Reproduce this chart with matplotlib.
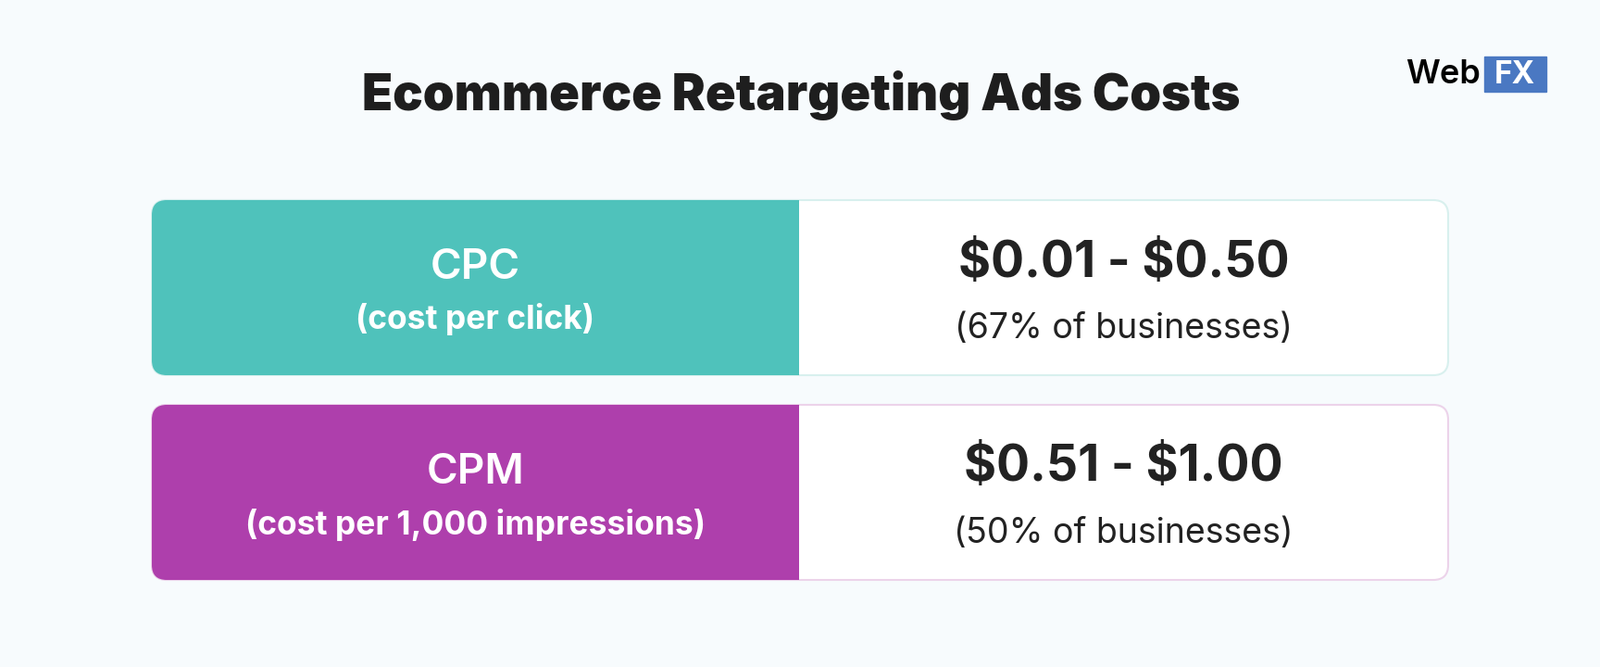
import matplotlib.pyplot as plt
from matplotlib.patches import FancyBboxPatch, Rectangle

plt.rcParams["text.parse_math"] = False

title = "Ecommerce Retargeting Ads Costs"
metrics = ["CPC", "CPM"]
metric_desc = ["(cost per click)", "(cost per 1,000 impressions)"]
ranges = ["$0.01 - $0.50", "$0.51 - $1.00"]
shares = ["(67% of businesses)", "(50% of businesses)"]
colors = ["#4fc2bb", "#ae3fac"]
borders = ["#d8f0ee", "#ecd3ea"]

W, H = 1728, 720
fig = plt.figure(figsize=(W / 100, H / 100), dpi=100)
fig.patch.set_facecolor("#f7fbfd")
ax = fig.add_axes([0, 0, 1, 1])
ax.set_xlim(0, W)
ax.set_ylim(H, 0)
ax.axis("off")

ax.text(865, 103, title, ha="center", va="center", fontsize=39, fontweight="black",
        color="#1e1e1e", family="Inter")

# logo
ax.text(1599, 81, "Web", ha="right", va="center", fontsize=26, fontweight="semibold",
        color="black", family="Inter")
ax.add_patch(Rectangle((1603, 61), 67, 38, color="#4a78c2"))
ax.text(1636, 81, "FX", ha="center", va="center", fontsize=24, fontweight="bold",
        color="white", family="Inter")

x0, x1, xs = 164, 1564, 863
tops = [216, 437]
h = 189
r = 16
for i in range(len(metrics)):
    y = tops[i]
    ax.add_patch(FancyBboxPatch((x0, y), x1 - x0, h, boxstyle=f"round,pad=0,rounding_size={r}",
                                facecolor="white", edgecolor=borders[i], linewidth=1.5))
    ax.add_patch(FancyBboxPatch((x0, y), xs - x0, h, boxstyle=f"round,pad=0,rounding_size={r}",
                                facecolor=colors[i], edgecolor="none"))
    ax.add_patch(Rectangle((xs - 2 * r, y), 2 * r, h, facecolor=colors[i], edgecolor="none"))
    cx = (x0 + xs) / 2
    ax.text(cx, y + 73, metrics[i], ha="center", va="center", fontsize=33,
            fontweight="semibold", color="white", family="Inter")
    ax.text(cx, y + 129, metric_desc[i], ha="center", va="center", fontsize=25.5,
            fontweight="bold", color="white", family="Inter")
    rx = (xs + x1) / 2
    ax.text(rx, y + 68, ranges[i], ha="center", va="center", fontsize=38.5,
            fontweight="bold", color="#222222", family="Inter")
    ax.text(rx, y + 139, shares[i], ha="center", va="center", fontsize=27,
            color="#222222", family="Inter")

fig.savefig("out.png", dpi=100, facecolor=fig.get_facecolor())
